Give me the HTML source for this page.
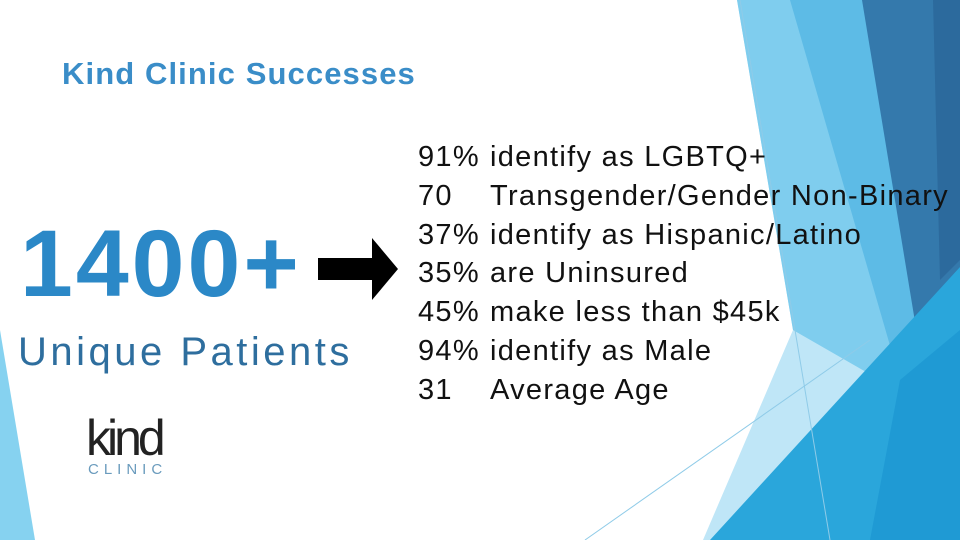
<!DOCTYPE html>
<html><head><meta charset="utf-8"><style>
body{margin:0;width:960px;height:540px;overflow:hidden;background:#fff;position:relative;font-family:"Liberation Sans",sans-serif}
.abs{position:absolute;white-space:nowrap}
</style></head><body>
<svg class="abs" style="left:0;top:0" width="960" height="540">
<polygon points="0,330 35,540 0,540" fill="#86d2f0"/>
<polygon points="737,0 960,0 960,540 703,540 793,330" fill="#bfe6f7"/>
<polygon points="737,0 900,0 960,320 960,540 820,540 880,380 793,330" fill="#7fcdee"/>
<polygon points="790,0 880,0 935,330 960,300 960,540 850,540 900,380" fill="#5dbbe6"/>
<polygon points="862,0 960,0 960,300 918,340" fill="#3479ac"/>
<polygon points="933,0 960,0 960,260 940,280" fill="#2c6a9d"/>
<polygon points="960,267 960,540 710,540" fill="#2aa6db"/>
<polygon points="900,380 960,330 960,540 870,540" fill="#1f9ad4"/>
<line x1="585" y1="540" x2="870" y2="340" stroke="#8fcbe8" stroke-width="1"/>
<line x1="740" y1="0" x2="830" y2="540" stroke="#8fcbe8" stroke-width="1"/>
</svg>
<div class="abs" style="left:62px;top:56px;font-size:31px;font-weight:bold;color:#3a8dc8;letter-spacing:1.1px">Kind Clinic Successes</div>
<div class="abs" style="left:20px;top:210px;font-size:95px;font-weight:bold;color:#2b88c7;letter-spacing:3px">1400+</div>
<div class="abs" style="left:18px;top:330px;font-size:40px;color:#2e6e9e;letter-spacing:3.5px">Unique Patients</div>
<svg class="abs" style="left:316px;top:236px" width="86" height="66">
<rect x="2" y="22" width="56" height="22" fill="#000"/>
<polygon points="56,2 82,33 56,64" fill="#000"/>
</svg>
<div class="abs" style="left:418px;top:138px;font-size:29px;line-height:38.8px;color:#111;letter-spacing:1.3px">
<div><span style="display:inline-block;width:72px">91%</span>identify as LGBTQ+</div>
<div><span style="display:inline-block;width:72px">70</span>Transgender/Gender Non-Binary</div>
<div><span style="display:inline-block;width:72px">37%</span>identify as Hispanic/Latino</div>
<div><span style="display:inline-block;width:72px">35%</span>are Uninsured</div>
<div><span style="display:inline-block;width:72px">45%</span>make less than $45k</div>
<div><span style="display:inline-block;width:72px">94%</span>identify as Male</div>
<div><span style="display:inline-block;width:72px">31</span>Average Age</div>
</div>
<div class="abs" style="left:86px;top:414px;width:90px">
<div style="font-size:50px;letter-spacing:-4px;color:#222;line-height:48px">kind</div>
<div style="font-size:15px;letter-spacing:5px;color:#6a9bbd;line-height:16px;margin-left:2px">CLINIC</div>
</div>
</body></html>
